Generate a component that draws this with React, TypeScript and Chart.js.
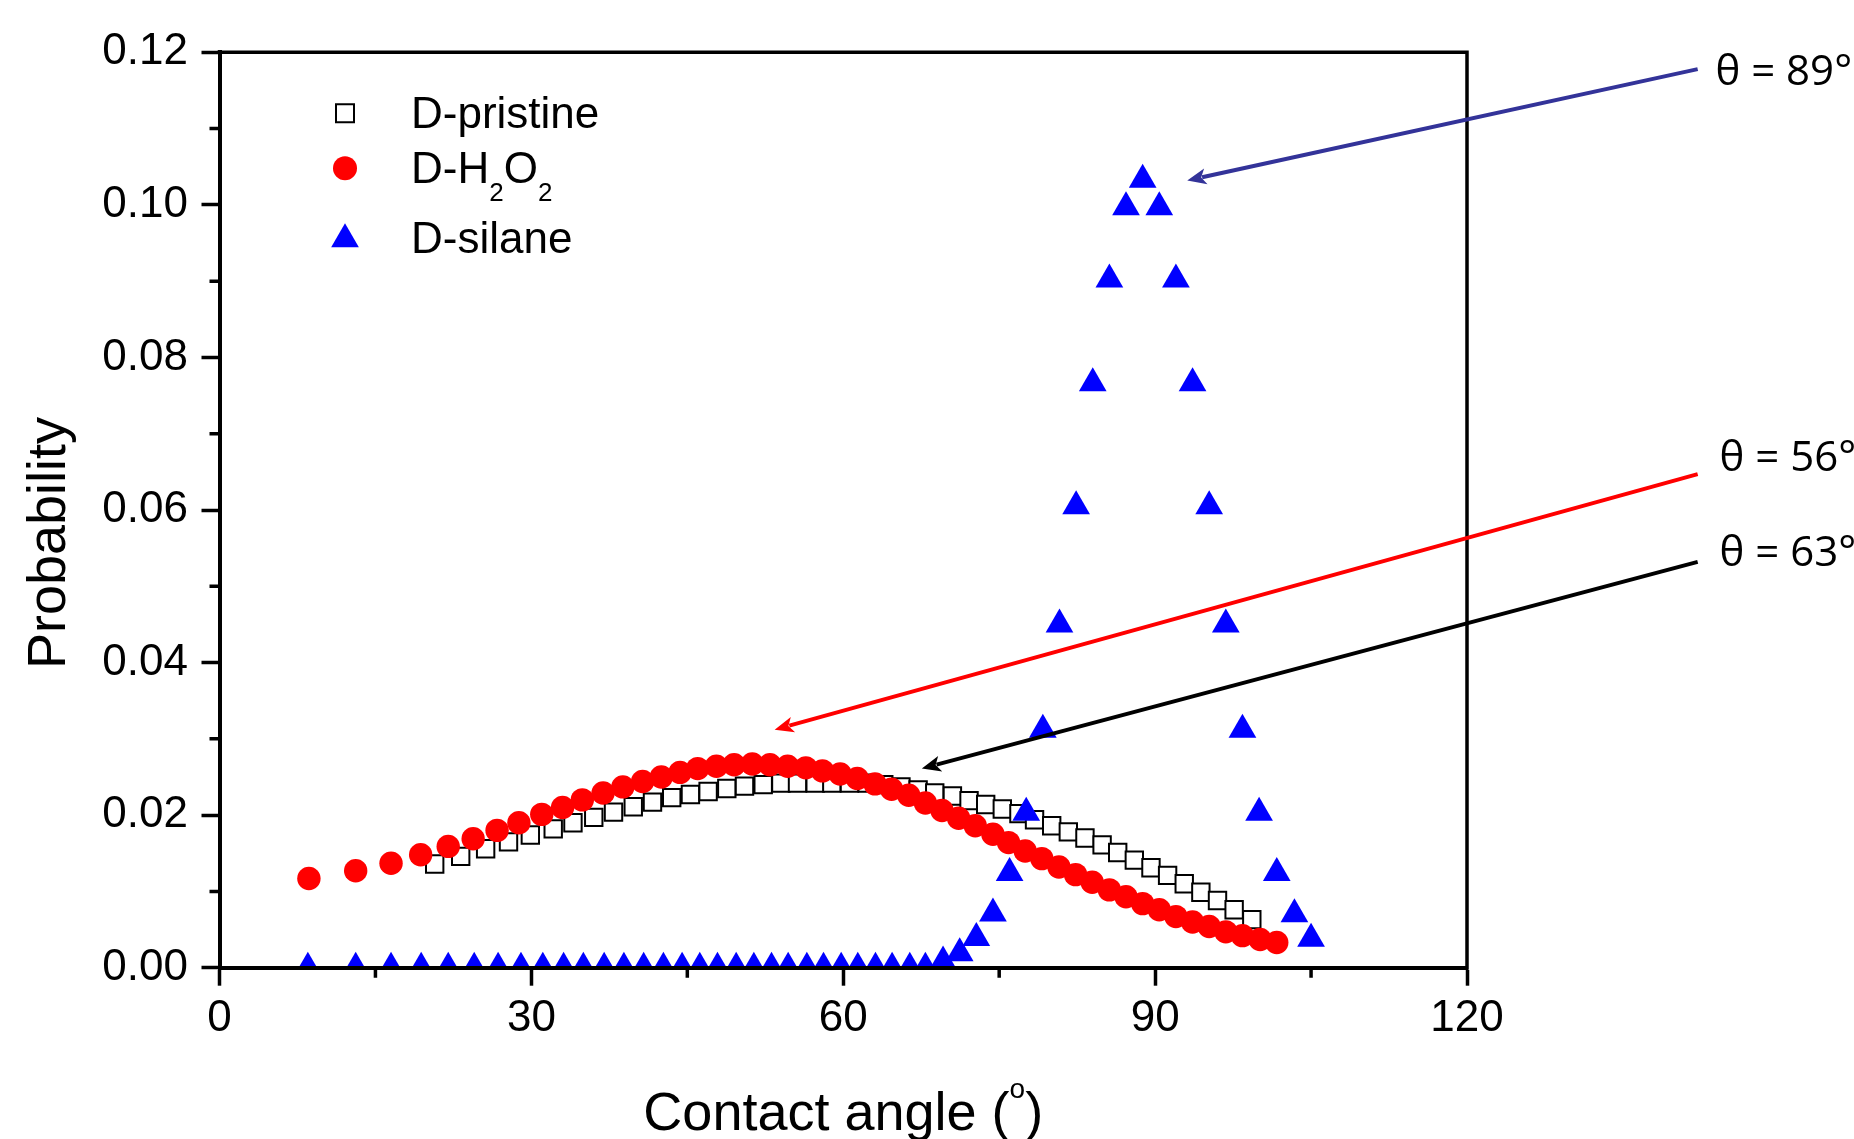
import React, { useEffect, useRef } from 'react';
import { Chart, registerables } from 'chart.js';

Chart.register(...registerables);

// ---------------- Data ----------------
const pristineX = [20.7, 23.2, 25.6, 27.8, 29.9, 32.1, 34.0, 36.0, 37.9, 39.8, 41.65, 43.5, 45.3, 47.0, 48.8, 50.5, 52.3, 54.0, 55.6, 57.3, 58.9, 60.6, 62.3, 63.9, 65.55, 67.2, 68.8, 70.5, 72.1, 73.7, 75.3, 76.9, 78.4, 80.05, 81.65, 83.25, 84.9, 86.4, 88.0, 89.6, 91.2, 92.8, 94.4, 96.0, 97.6, 99.3];
const pristineY = [0.0136, 0.0146, 0.0156, 0.0165, 0.0174, 0.0182, 0.0190, 0.0197, 0.0204, 0.0211, 0.0217, 0.0223, 0.0227, 0.0231, 0.0235, 0.0238, 0.0240, 0.0242, 0.0242, 0.0242, 0.0242, 0.0242, 0.0242, 0.0240, 0.0237, 0.0233, 0.0229, 0.0225, 0.0219, 0.0214, 0.0208, 0.0202, 0.0194, 0.0186, 0.0178, 0.0170, 0.0161, 0.0151, 0.0141, 0.0131, 0.0121, 0.0110, 0.0099, 0.0088, 0.0076, 0.0063];

const h2o2X = [8.6, 13.1, 16.5, 19.35, 22.0, 24.4, 26.7, 28.8, 31.0, 33.0, 34.9, 36.9, 38.8, 40.7, 42.5, 44.3, 46.0, 47.8, 49.5, 51.25, 52.95, 54.65, 56.4, 58.0, 59.7, 61.35, 63.05, 64.65, 66.3, 67.9, 69.5, 71.1, 72.7, 74.4, 75.9, 77.5, 79.1, 80.75, 82.35, 83.95, 85.6, 87.2, 88.8, 90.4, 92.0, 93.6, 95.2, 96.8, 98.4, 100.1, 101.7];
const h2o2Y = [0.0117, 0.0127, 0.0137, 0.0148, 0.0159, 0.0169, 0.0180, 0.0190, 0.0201, 0.0210, 0.0220, 0.0229, 0.0237, 0.0244, 0.0250, 0.0256, 0.0261, 0.0264, 0.0266, 0.0267, 0.0266, 0.0264, 0.0262, 0.0258, 0.0254, 0.0248, 0.0241, 0.0234, 0.0226, 0.0216, 0.0206, 0.0196, 0.0186, 0.0175, 0.0164, 0.0153, 0.0143, 0.0132, 0.0122, 0.0112, 0.0102, 0.0093, 0.0084, 0.0076, 0.0067, 0.0060, 0.0054, 0.0047, 0.0042, 0.0037, 0.0033];

const silaneX = [8.5, 13.1, 16.5, 19.4, 22.0, 24.5, 26.8, 29.0, 31.1, 33.1, 35.0, 37.0, 38.9, 40.8, 42.7, 44.5, 46.2, 47.9, 49.7, 51.4, 53.1, 54.7, 56.5, 58.1, 59.8, 61.4, 63.1, 64.7, 66.4, 67.9, 69.6, 71.2, 72.8, 74.4, 76.0, 77.6, 79.2, 80.8, 82.4, 84.0, 85.6, 87.2, 88.8, 90.4, 92.0, 93.6, 95.2, 96.8, 98.4, 100.0, 101.7, 103.4, 105.0];
const silaneY = [0, 0, 0, 0, 0, 0, 0, 0, 0, 0, 0, 0, 0, 0, 0, 0, 0, 0, 0, 0, 0, 0, 0, 0, 0, 0, 0, 0, 0, 0, 0.0008, 0.0019, 0.0039, 0.0071, 0.0124, 0.0203, 0.0312, 0.0450, 0.0605, 0.0766, 0.0902, 0.0997, 0.1033, 0.0997, 0.0902, 0.0766, 0.0605, 0.0450, 0.0312, 0.0203, 0.0124, 0.0070, 0.0038];

const xMinorTicks = [15, 45, 75, 105];
const yMinorTicks = [0.01, 0.03, 0.05, 0.07, 0.09, 0.11];

const seriesNames = ['D-pristine', 'D-H2O2', 'D-silane'];

// annotation arrows (data coordinates)
const annotLabels = ['\u03B8 = 89\u00B0', '\u03B8 = 56\u00B0', '\u03B8 = 63\u00B0'];
const annotColors = ['#333399', '#ff0000', '#000000'];
const annotTips = [[93.09, 0.1032], [53.4, 0.0312], [67.56, 0.0261]];
const annotTails = [[142.19, 0.1178], [142.19, 0.0647], [142.19, 0.0532]];
const annotTextPos = [[143.9, 0.1157], [144.3, 0.0651], [144.3, 0.0527]];

const FONT = '"Liberation Sans", Arial, sans-serif';

type Run = { text: string; size: number; dy: number };

function runsWidth(ctx: CanvasRenderingContext2D, runs: Run[]) {
  let w = 0;
  for (const r of runs) {
    ctx.font = `${r.size}px ${FONT}`;
    w += ctx.measureText(r.text).width;
  }
  return w;
}

function drawRuns(ctx: CanvasRenderingContext2D, runs: Run[], x: number, y: number, center: boolean) {
  const total = runsWidth(ctx, runs);
  let cx = center ? x - total / 2 : x;
  ctx.textAlign = 'left';
  ctx.textBaseline = 'alphabetic';
  for (const r of runs) {
    ctx.font = `${r.size}px ${FONT}`;
    ctx.fillText(r.text, cx, y + r.dy);
    cx += ctx.measureText(r.text).width;
  }
}

function drawMarker(ctx: CanvasRenderingContext2D, style: string, x: number, y: number) {
  ctx.beginPath();
  if (style === 'rect') {
    const s = 9;
    ctx.rect(x - s, y - s, 2 * s, 2 * s);
    ctx.fillStyle = '#fff';
    ctx.fill();
    ctx.lineWidth = 2;
    ctx.strokeStyle = '#000';
    ctx.stroke();
  } else if (style === 'circle') {
    ctx.arc(x, y, 12, 0, Math.PI * 2);
    ctx.fillStyle = '#ff0000';
    ctx.fill();
  } else {
    const r = 16;
    ctx.moveTo(x, y - r);
    ctx.lineTo(x + r * Math.sin((2 * Math.PI) / 3), y + r * 0.5);
    ctx.lineTo(x - r * Math.sin((2 * Math.PI) / 3), y + r * 0.5);
    ctx.closePath();
    ctx.fillStyle = '#0000ff';
    ctx.fill();
  }
}

const decorPlugin = {
  id: 'decor',
  afterDraw(chart: any) {
    const { ctx, chartArea: a, scales } = chart;
    const xs = scales.x;
    const ys = scales.y;
    ctx.save();
    // frame top & right
    ctx.strokeStyle = '#000';
    ctx.lineWidth = 3.5;
    ctx.beginPath();
    ctx.moveTo(a.left - 2, a.top);
    ctx.lineTo(a.right, a.top);
    ctx.lineTo(a.right, a.bottom + 2);
    ctx.stroke();
    // minor ticks
    ctx.lineWidth = 3.5;
    ctx.beginPath();
    for (const v of xMinorTicks) {
      const px = xs.getPixelForValue(v);
      ctx.moveTo(px, a.bottom);
      ctx.lineTo(px, a.bottom + 10);
    }
    for (const v of yMinorTicks) {
      const py = ys.getPixelForValue(v);
      ctx.moveTo(a.left, py);
      ctx.lineTo(a.left - 10, py);
    }
    ctx.stroke();

    // axis titles
    ctx.fillStyle = '#000';
    drawRuns(
      ctx,
      [
        { text: 'Contact angle (', size: 54, dy: 0 },
        { text: 'o', size: 28, dy: -32 },
        { text: ')', size: 54, dy: 0 },
      ],
      (a.left + a.right) / 2,
      a.bottom + 162,
      true
    );
    ctx.save();
    ctx.translate(65, 543);
    ctx.rotate(-Math.PI / 2);
    drawRuns(ctx, [{ text: 'Probability', size: 54, dy: 0 }], 0, 0, true);
    ctx.restore();

    // legend
    const mx = a.left + 125.5;
    const tx = a.left + 191.5;
    const rowY = [a.top + 61, a.top + 116, a.top + 187];
    const baseY = [a.top + 76, a.top + 131, a.top + 201];
    const styles = ['rect', 'circle', 'triangle'];
    for (let i = 0; i < 3; i++) {
      drawMarker(ctx, styles[i], mx, rowY[i]);
    }
    ctx.fillStyle = '#000';
    drawRuns(ctx, [{ text: seriesNames[0], size: 44, dy: 0 }], tx, baseY[0], false);
    drawRuns(
      ctx,
      [
        { text: 'D-H', size: 44, dy: 0 },
        { text: '2', size: 26, dy: 18 },
        { text: 'O', size: 44, dy: 0 },
        { text: '2', size: 26, dy: 18 },
      ],
      tx,
      baseY[1],
      false
    );
    drawRuns(ctx, [{ text: seriesNames[2], size: 44, dy: 0 }], tx, baseY[2], false);

    // annotation arrows
    for (let i = 0; i < annotLabels.length; i++) {
      const x1 = xs.getPixelForValue(annotTails[i][0]);
      const y1 = ys.getPixelForValue(annotTails[i][1]);
      const x2 = xs.getPixelForValue(annotTips[i][0]);
      const y2 = ys.getPixelForValue(annotTips[i][1]);
      const ang = Math.atan2(y2 - y1, x2 - x1);
      const headLen = 19;
      const headW = 8;
      ctx.strokeStyle = annotColors[i];
      ctx.fillStyle = annotColors[i];
      ctx.lineWidth = 4;
      ctx.beginPath();
      ctx.moveTo(x1, y1);
      ctx.lineTo(x2 - Math.cos(ang) * headLen * 0.8, y2 - Math.sin(ang) * headLen * 0.8);
      ctx.stroke();
      ctx.beginPath();
      ctx.moveTo(x2, y2);
      const bx = x2 - Math.cos(ang) * headLen;
      const by = y2 - Math.sin(ang) * headLen;
      ctx.lineTo(bx + Math.sin(ang) * headW, by - Math.cos(ang) * headW);
      ctx.lineTo(x2 - Math.cos(ang) * headLen * 0.75, y2 - Math.sin(ang) * headLen * 0.75);
      ctx.lineTo(bx - Math.sin(ang) * headW, by + Math.cos(ang) * headW);
      ctx.closePath();
      ctx.fill();

      ctx.fillStyle = '#000';
      ctx.font = '42px "Open Sans", sans-serif';
      ctx.textAlign = 'left';
      ctx.textBaseline = 'alphabetic';
      ctx.fillText(
        annotLabels[i],
        xs.getPixelForValue(annotTextPos[i][0]),
        ys.getPixelForValue(annotTextPos[i][1])
      );
    }
    ctx.restore();
  },
};

export default function App() {
  const canvasRef = useRef<HTMLCanvasElement | null>(null);

  useEffect(() => {
    if (!canvasRef.current) return;
    Chart.defaults.font.family = FONT;
    Chart.defaults.color = '#000';
    const toPts = (xs: number[], ys: number[]) => xs.map((x, i) => ({ x, y: ys[i] }));
    const chart = new Chart(canvasRef.current, {
      type: 'scatter',
      data: {
        datasets: [
          {
            label: seriesNames[2],
            data: toPts(silaneX, silaneY),
            pointStyle: 'triangle',
            pointRadius: 16,
            pointBackgroundColor: '#0000ff',
            pointBorderColor: '#0000ff',
            pointBorderWidth: 0,
            clip: 0,
          },
          {
            label: seriesNames[1],
            data: toPts(h2o2X, h2o2Y),
            pointStyle: 'circle',
            pointRadius: 11.7,
            pointBackgroundColor: '#ff0000',
            pointBorderColor: '#ff0000',
            pointBorderWidth: 0,
          },
          {
            label: seriesNames[0],
            data: toPts(pristineX, pristineY),
            pointStyle: 'rect',
            pointRadius: 12.3,
            pointBackgroundColor: '#ffffff',
            pointBorderColor: '#000000',
            pointBorderWidth: 2,
          },
        ],
      } as any,
      options: {
        responsive: false,
        animation: false,
        devicePixelRatio: 1,
        events: [],
        layout: { padding: { left: 0, top: 52.3, right: 1854 - 1467, bottom: 0 } },
        plugins: { legend: { display: false }, tooltip: { enabled: false } },
        scales: {
          x: {
            type: 'linear',
            min: 0,
            max: 120,
            afterFit: (s: any) => {
              s.height = 1139 - 967.7;
            },
            ticks: {
              stepSize: 30,
              font: { size: 44 },
              color: '#000',
              padding: 7,
              maxRotation: 0,
              callback: (v: any) => String(v),
            },
            grid: {
              display: true,
              drawOnChartArea: false,
              drawTicks: true,
              tickLength: 18,
              tickWidth: 3.5,
              tickColor: '#000',
            },
            border: { display: true, color: '#000', width: 4, z: 1 },
          },
          y: {
            type: 'linear',
            min: 0,
            max: 0.12,
            afterFit: (s: any) => {
              s.width = 219.5;
            },
            ticks: {
              stepSize: 0.02,
              font: { size: 44 },
              color: '#000',
              padding: 13.5,
              callback: (v: any) => Number(v).toFixed(2),
            },
            grid: {
              display: true,
              drawOnChartArea: false,
              drawTicks: true,
              tickLength: 18,
              tickWidth: 3.5,
              tickColor: '#000',
            },
            border: { display: true, color: '#000', width: 4, z: 1 },
          },
        },
      } as any,
      plugins: [decorPlugin as any],
    });
    return () => chart.destroy();
  }, []);

  return (
    <div style={{ position: 'absolute', left: 0, top: 0, width: 1854, height: 1139, background: '#fff' }}>
      <canvas ref={canvasRef} width={1854} height={1139} style={{ display: 'block' }} />
    </div>
  );
}
